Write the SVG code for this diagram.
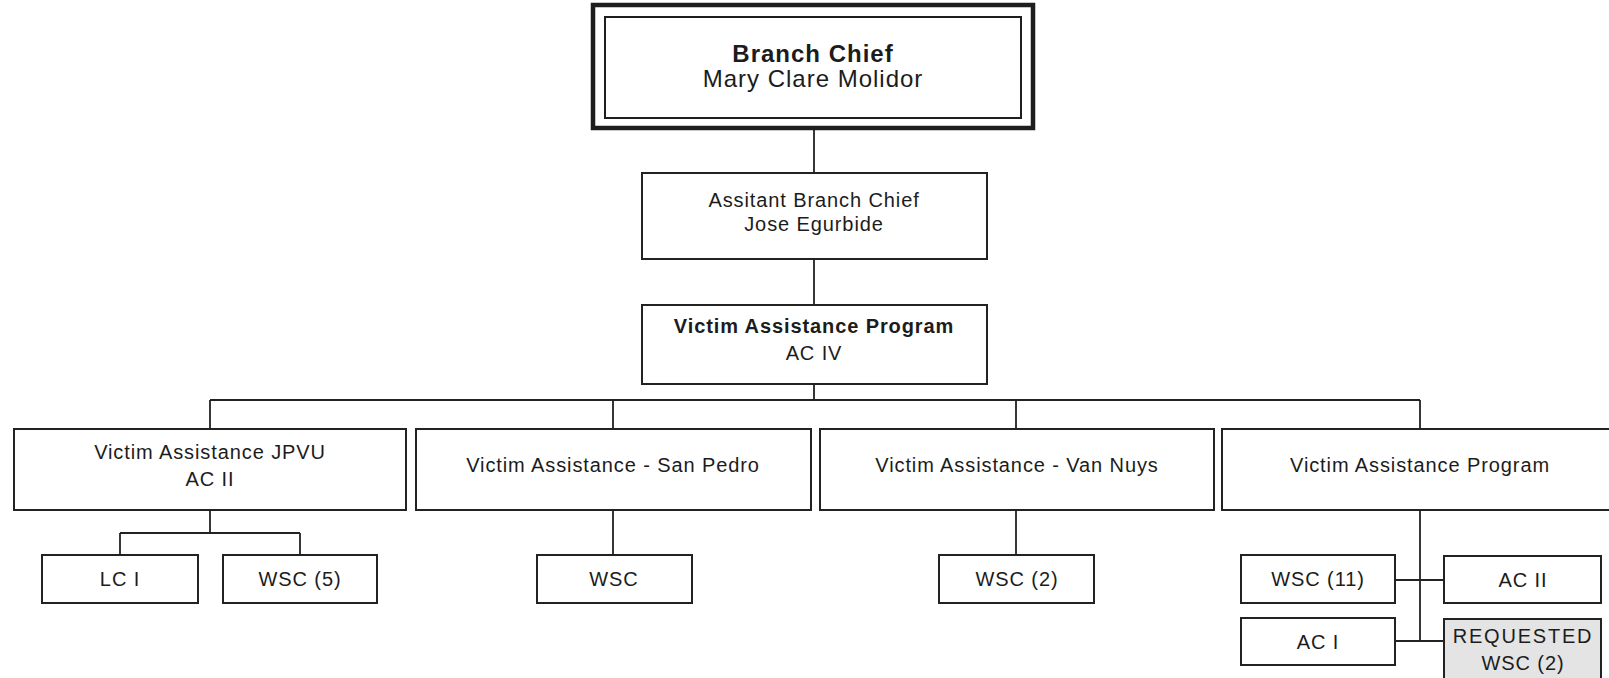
<svg xmlns="http://www.w3.org/2000/svg" width="1609" height="678" viewBox="0 0 1609 678">
<style>
.box{fill:#ffffff;stroke:#222222;stroke-width:2}
.req{fill:#e4e4e4;stroke:#222222;stroke-width:2}
.outer{fill:#ffffff;stroke:#1e1e1e;stroke-width:4.5}
.inner{fill:none;stroke:#1e1e1e;stroke-width:2}
.ln{fill:none;stroke:#222222;stroke-width:1.8}
.t{font-family:"Liberation Sans",Arial,sans-serif;font-size:20px;letter-spacing:0.9px;fill:#1c1c1c;text-anchor:middle}
.b{font-weight:bold}
.big{font-size:24px;letter-spacing:1px}
</style>
<rect x="0" y="0" width="1609" height="678" fill="#ffffff"/>
<g id="connectors">
<path class="ln" d="M814 128V173M814 259V305M814 384V400M210 400H1420M210 400V429M613 400V429M1016 400V429M1420 400V429"/>
<path class="ln" d="M210 510V533M120 533H300M120 533V555M300 533V555"/>
<path class="ln" d="M613 510V555M1016 510V555"/>
<path class="ln" d="M1420 510V641M1395 580H1444M1395 641H1444"/>
</g>
<g id="branch-chief">
<rect class="outer" x="593" y="5" width="440" height="123"/>
<rect class="inner" x="605" y="17" width="416" height="101"/>
<text class="t big b" x="813" y="62">Branch Chief</text>
<text class="t big" x="813" y="87">Mary Clare Molidor</text>
</g>
<g id="assistant-branch-chief">
<rect class="box" x="642" y="173" width="345" height="86"/>
<text class="t" x="814" y="207">Assitant Branch Chief</text>
<text class="t" x="814" y="231">Jose Egurbide</text>
</g>
<g id="vap-ac-iv">
<rect class="box" x="642" y="305" width="345" height="79"/>
<text class="t b" x="814" y="333">Victim Assistance Program</text>
<text class="t" x="814" y="360">AC IV</text>
</g>
<g id="va-jpvu">
<rect class="box" x="14" y="429" width="392" height="81"/>
<text class="t" x="210" y="459">Victim Assistance JPVU</text>
<text class="t" x="210" y="486">AC II</text>
</g>
<g id="va-san-pedro">
<rect class="box" x="416" y="429" width="395" height="81"/>
<text class="t" x="613" y="472">Victim Assistance - San Pedro</text>
</g>
<g id="va-van-nuys">
<rect class="box" x="820" y="429" width="394" height="81"/>
<text class="t" x="1017" y="472">Victim Assistance - Van Nuys</text>
</g>
<g id="va-program">
<rect class="box" x="1222" y="429" width="396" height="81"/>
<text class="t" x="1420" y="472">Victim Assistance Program</text>
</g>
<g id="lc-i">
<rect class="box" x="42" y="555" width="156" height="48"/>
<text class="t" x="120" y="586">LC I</text>
</g>
<g id="wsc-5">
<rect class="box" x="223" y="555" width="154" height="48"/>
<text class="t" x="300" y="586">WSC (5)</text>
</g>
<g id="wsc-san-pedro">
<rect class="box" x="537" y="555" width="155" height="48"/>
<text class="t" x="614" y="586">WSC</text>
</g>
<g id="wsc-2">
<rect class="box" x="939" y="555" width="155" height="48"/>
<text class="t" x="1017" y="586">WSC (2)</text>
</g>
<g id="wsc-11">
<rect class="box" x="1241" y="555" width="154" height="48"/>
<text class="t" x="1318" y="586">WSC (11)</text>
</g>
<g id="ac-ii">
<rect class="box" x="1444" y="556" width="157" height="47"/>
<text class="t" x="1523" y="587">AC II</text>
</g>
<g id="ac-i">
<rect class="box" x="1241" y="618" width="154" height="47"/>
<text class="t" x="1318" y="649">AC I</text>
</g>
<g id="requested-wsc-2">
<rect class="req" x="1444" y="619" width="157" height="62"/>
<text class="t" x="1523" y="643" style="letter-spacing:1.8px">REQUESTED</text>
<text class="t" x="1523" y="670">WSC (2)</text>
</g>
</svg>
